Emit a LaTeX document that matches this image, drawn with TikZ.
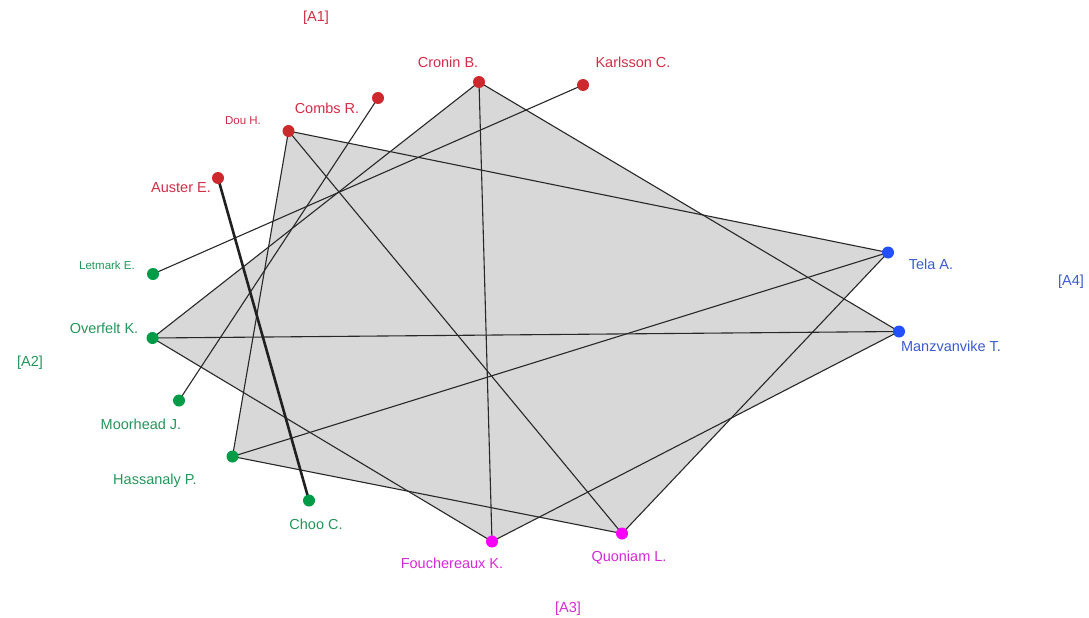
\documentclass[tikz,border=0pt]{standalone}
\usepackage{fontspec}
\setmainfont{Liberation Sans}
\pgfdeclarelayer{bg}
\pgfsetlayers{bg,main}
\definecolor{redA}{RGB}{205,40,45}
\definecolor{redT}{RGB}{210,45,70}
\definecolor{greenA}{RGB}{0,155,70}
\definecolor{greenT}{RGB}{35,150,90}
\definecolor{magA}{RGB}{250,0,250}
\definecolor{magT}{RGB}{215,40,215}
\definecolor{blueA}{RGB}{35,80,250}
\definecolor{blueT}{RGB}{60,90,210}
\definecolor{paperfill}{RGB}{216,216,216}
\definecolor{linkc}{RGB}{40,40,40}
\begin{document}
\begin{tikzpicture}[x=1pt,y=-1pt,
  author/.style={circle,inner sep=0pt,minimum size=12pt,fill=#1},
  lbl/.style={inner sep=0pt,text=#1,font=\fontsize{14.5}{16}\selectfont},
  lblsmall/.style={inner sep=0pt,text=#1,font=\fontsize{11.5}{13}\selectfont},
  paper/.style={fill=paperfill},
  link/.style={draw=linkc,line width=1.1pt},
  strong/.style={draw=linkc!80!black,line width=2.6pt}]
\useasboundingbox (0,0) rectangle (1089,618);

% group A1
\node[author=redA] (cronin) at (479,82) {};
\node[author=redA] (karlsson) at (583,85) {};
\node[author=redA] (combs) at (378,98) {};
\node[author=redA] (dou) at (288.5,131) {};
\node[author=redA] (auster) at (218,178) {};
% group A2
\node[author=greenA] (letmark) at (153,274) {};
\node[author=greenA] (overfelt) at (152.5,338) {};
\node[author=greenA] (moorhead) at (179,400.5) {};
\node[author=greenA] (hassanaly) at (232.5,456.5) {};
\node[author=greenA] (choo) at (309,500.5) {};
% group A3
\node[author=magA] (fouchereaux) at (492,541.5) {};
\node[author=magA] (quoniam) at (622,533.5) {};
% group A4
\node[author=blueA] (tela) at (888,252.5) {};
\node[author=blueA] (manz) at (899,331.5) {};

% author names
\node[lbl=redT] (cronin-l) at (448,62) {Cronin B.};
\node[lbl=redT] (karlsson-l) at (633,62) {Karlsson C.};
\node[lbl=redT] (combs-l) at (327,108) {Combs R.};
\node[lblsmall=redT] (dou-l) at (243,121) {Dou H.};
\node[lbl=redT] (auster-l) at (181,188) {Auster E.};
\node[lblsmall=greenT] (letmark-l) at (107,265) {Letmark E.};
\node[lbl=greenT] (overfelt-l) at (104,328) {Overfelt K.};
\node[lbl=greenT] (moorhead-l) at (141,424) {Moorhead J.};
\node[lbl=greenT] (hassanaly-l) at (155,481) {Hassanaly P.};
\node[lbl=greenT] (choo-l) at (316,524) {Choo C.};
\node[lbl=magT] (fouchereaux-l) at (452,563) {Fouchereaux K.};
\node[lbl=magT] (quoniam-l) at (629,558) {Quoniam L.};
\node[lbl=blueT] (tela-l) at (931,264) {Tela A.};
\node[lbl=blueT] (manz-l) at (951,346) {Manzvanvike T.};

% group labels
\node[lbl=redT] (a1) at (316,18) {[A1]};
\node[lbl=greenT] (a2) at (30,363) {[A2]};
\node[lbl=magT] (a3) at (568,609) {[A3]};
\node[lbl=blueT] (a4) at (1071,282) {[A4]};

\begin{pgfonlayer}{bg}
  % four-author papers
  \fill[paper] (cronin.center) -- (manz.center) -- (fouchereaux.center) -- (overfelt.center) -- cycle;
  \fill[paper] (dou.center) -- (tela.center) -- (quoniam.center) -- (hassanaly.center) -- cycle;
  % co-author links
  \draw[link] (cronin.center) -- (manz.center);
  \draw[link] (cronin.center) -- (fouchereaux.center);
  \draw[link] (cronin.center) -- (overfelt.center);
  \draw[link] (overfelt.center) -- (manz.center);
  \draw[link] (overfelt.center) -- (fouchereaux.center);
  \draw[link] (fouchereaux.center) -- (manz.center);
  \draw[link] (dou.center) -- (tela.center);
  \draw[link] (dou.center) -- (quoniam.center);
  \draw[link] (dou.center) -- (hassanaly.center);
  \draw[link] (hassanaly.center) -- (tela.center);
  \draw[link] (hassanaly.center) -- (quoniam.center);
  \draw[link] (quoniam.center) -- (tela.center);
  \draw[link] (combs.center) -- (moorhead.center);
  \draw[link] (karlsson.center) -- (letmark.center);
  \draw[strong] (auster.center) -- (choo.center);
\end{pgfonlayer}
\end{tikzpicture}
\end{document}
